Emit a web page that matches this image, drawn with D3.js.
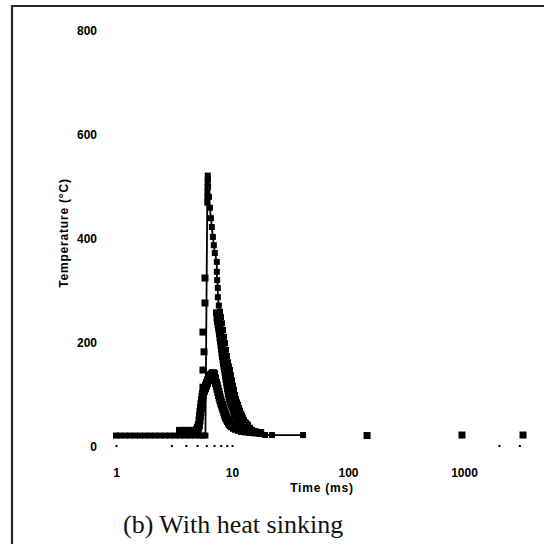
<!DOCTYPE html>
<html>
<head>
<meta charset="utf-8">
<script src="https://cdn.jsdelivr.net/npm/d3@7/dist/d3.min.js"></script>
<style>
body { margin: 0; background: #fff; }
.axis text { font-family: "Liberation Sans", Arial, sans-serif; font-size: 12px; font-weight: bold; fill: #000; }
.axis-title { font-family: "Liberation Sans", Arial, sans-serif; font-size: 12px; font-weight: bold; fill: #000; letter-spacing: 0.8px; }
.caption { font-family: "Liberation Serif", "Times New Roman", serif; font-size: 26px; fill: #111; }
</style>
</head>
<body>
<div id="chart"></div>
<script>
// ---- data ----
var xTicks = [1, 10, 100, 1000];
var xMinorTicks = [1, 3, 4, 5, 6, 7, 8, 9, 10, 2000, 3000];
var yTicks = [0, 200, 400, 600, 800];

// spike trace (tall narrow peak)
var spikeTime = [1.0, 1.08, 1.2, 1.32, 1.46, 1.61, 1.78, 1.96, 2.17, 2.4, 2.65, 2.92, 3.23, 3.56, 3.93, 4.35, 4.8, 5.3, 5.6, 5.9,
    6.12, 6.13, 6.14, 6.15, 6.16, 6.18, 6.2, 6.22, 6.33, 6.45, 6.58, 6.7, 6.84, 6.97, 7.11, 7.4, 7.4, 7.45, 7.55, 7.55, 7.7,
    7.88, 8.04, 8.2, 8.37, 8.53, 8.7, 8.88, 9.06, 9.24, 9.42, 9.61, 9.8, 10.0, 10.2, 10.4, 10.6, 10.83, 11.05, 11.27, 11.5, 11.72,
    12.0, 12.2, 12.45, 12.69, 13.0, 13.2, 13.5, 13.74, 14.3, 14.87, 15.3, 15.79, 16.76, 17.78, 19.25, 22.1, 41];
var spikeTemp = [22, 22, 22, 22, 22, 22, 22, 22, 22, 22, 22, 22, 22, 22, 22, 22, 22, 22, 22, 22,
    470, 480, 490, 500, 510, 522, 515, 500, 481, 460, 440, 423, 404, 388, 373, 356, 337, 321, 306, 288, 272,
    260, 250, 238, 225, 212, 200, 187, 175, 163, 155, 148, 138, 128, 118, 110, 100, 92, 86, 81, 75, 70,
    64, 60, 56, 52, 48, 46, 44, 42, 37, 33, 31, 30, 27, 25, 23, 23, 23];

// hump trace (broad lower peak)
var humpTime = [3.56, 3.93, 4.35, 4.8, 5.0, 5.1, 5.18, 5.25, 5.3, 5.35, 5.4, 5.45, 5.51, 5.57, 5.62, 5.73, 5.85, 5.97, 6.09, 6.21, 6.33, 6.46, 6.59, 6.72, 6.86, 7.0, 7.14, 7.28, 7.4, 7.5,
    7.62, 7.73, 7.84, 7.95, 8.07, 8.2, 8.32, 8.45, 8.58, 8.7, 8.82, 8.95, 9.1, 9.24, 9.4, 9.6, 9.8, 10.0, 10.4, 10.83, 11.5, 12.2, 13.2, 14.3, 15.8, 17.5];
var humpTemp = [31, 31, 31, 31, 33, 37, 42, 51, 60, 67, 75, 82, 90, 96, 102, 108, 113, 118, 123, 128, 133, 136, 138, 140, 142, 140, 132, 123, 118, 112,
    106, 100, 95, 90, 85, 81, 76, 72, 67, 63, 59, 56, 53, 50, 47, 44, 42, 40, 37, 35, 33, 31, 30, 29, 28, 27];

// scattered samples (no line)
var dotTime = [5.62, 5.62, 5.74, 5.62, 5.85, 5.85,
    7.35, 7.43, 7.5, 7.58, 7.66, 7.73, 7.8, 7.88, 7.96, 8.04, 8.12, 8.2, 8.28, 8.37, 8.45, 8.53, 8.62, 8.7, 8.8, 8.88, 8.97, 9.06, 9.15, 9.24, 9.33, 9.42, 9.52, 9.61, 9.75, 9.9, 10.05, 10.2,
    10.35, 10.5, 10.65, 10.83, 11.05, 11.27, 11.5, 11.72, 12.0, 12.3, 12.6, 12.9, 13.2, 13.6, 14.0, 14.3];
var dotTemp = [115, 148, 183, 221, 277, 325,
    258, 248, 242, 236, 230, 225, 218, 210, 203, 196, 188, 181, 174, 167, 161, 155, 150, 144, 137, 131, 125, 119, 113, 108, 103, 98, 93, 89, 85, 81, 77, 73,
    69, 65, 61, 58, 55, 52, 49, 46, 43, 40, 38, 36, 34, 32, 30, 28];

// late readings
var lateTime = [146, 961, 3226];
var lateTemp = [22, 23, 23];

function zip(ts, vs) {
    return ts.map(function(t, i) { return { t: t, v: vs[i] }; });
}

var svgWidth = 544;
var svgHeight = 544;

var svg = d3.select("#chart")
    .append("svg")
    .attr("width", svgWidth)
    .attr("height", svgHeight);

// frame of the scanned figure
svg.append("path")
    .attr("d", "M12,544V6H544")
    .attr("fill", "none")
    .attr("stroke", "#2a2a2a")
    .attr("stroke-width", 2.2);

var x = d3.scaleLog().domain([1, 1000]).range([116, 464]);
var y = d3.scaleLinear().domain([0, 800]).range([447, 31]);

// minor tick dots along the (invisible) x axis line
svg.append("g")
    .attr("transform", "translate(0,445)")
    .call(d3.axisBottom(x).tickValues(xMinorTicks).tickSize(2).tickFormat(""))
    .call(function(g) { g.select(".domain").remove(); })
    .selectAll("line")
    .attr("stroke", "#000")
    .attr("stroke-width", 2);

svg.append("g")
    .attr("class", "axis")
    .attr("transform", "translate(0,447)")
    .call(d3.axisBottom(x).tickValues(xTicks).tickSize(0).tickPadding(21).tickFormat(d3.format("d")))
    .call(function(g) { g.select(".domain").remove(); });

svg.append("g")
    .attr("class", "axis")
    .attr("transform", "translate(116,0)")
    .call(d3.axisLeft(y).tickValues(yTicks).tickSize(0).tickPadding(19))
    .call(function(g) { g.select(".domain").remove(); });

svg.append("text")
    .attr("class", "axis-title")
    .attr("x", 322)
    .attr("y", 492)
    .attr("text-anchor", "middle")
    .text("Time (ms)");

svg.append("text")
    .attr("class", "axis-title")
    .attr("transform", "translate(68,233) rotate(-90)")
    .attr("text-anchor", "middle")
    .text("Temperature (°C)");

var line = d3.line()
    .x(function(d) { return x(d.t); })
    .y(function(d) { return y(d.v); });

function drawSeries(data, size, withLine) {
    var g = svg.append("g");
    if (withLine) {
        g.append("path")
            .datum(data)
            .attr("d", line)
            .attr("fill", "none")
            .attr("stroke", "#000")
            .attr("stroke-width", 1.8);
    }
    g.selectAll("rect")
        .data(data)
        .enter().append("rect")
        .attr("x", function(d) { return x(d.t) - size / 2; })
        .attr("y", function(d) { return y(d.v) - size / 2; })
        .attr("width", size)
        .attr("height", size)
        .attr("fill", "#000");
}

drawSeries(zip(humpTime, humpTemp), 8, true);
drawSeries(zip(spikeTime, spikeTemp), 6, true);
drawSeries(zip(dotTime, dotTemp), 7, false);
drawSeries(zip(lateTime, lateTemp), 7, false);

svg.append("text")
    .attr("class", "caption")
    .attr("x", 123)
    .attr("y", 533)
    .text("(b) With heat sinking");
</script>
</body>
</html>
